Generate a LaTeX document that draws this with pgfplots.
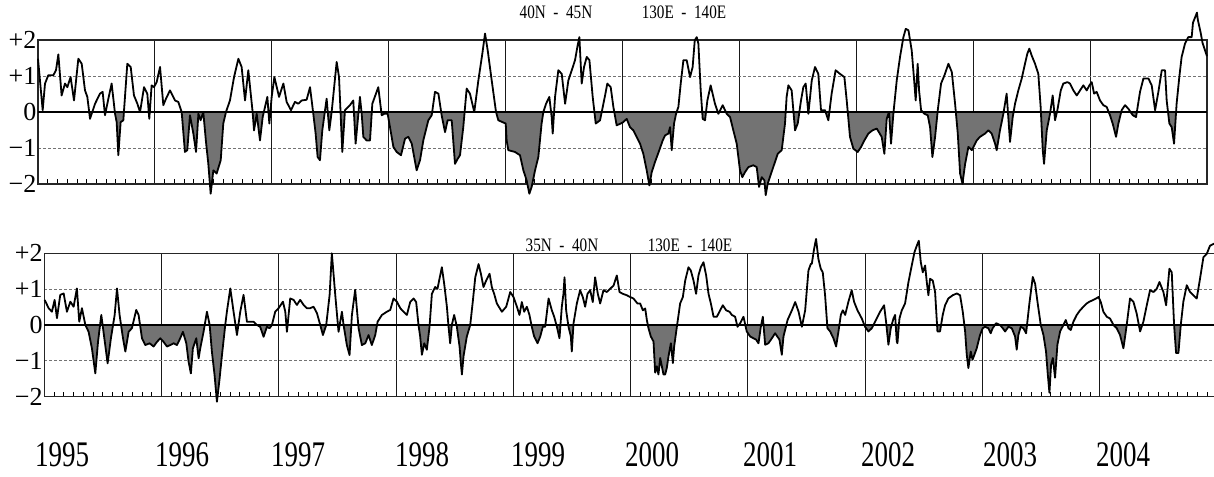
\documentclass[border=0pt]{standalone}
\usepackage{pgfplots}
\pgfplotsset{compat=1.18}
\usepackage{pgfplotstable}
\usepackage{fontspec}
\setmainfont{Liberation Serif}
\usepackage{graphicx}

% top panel: 40N-45N, 130E-140E ; t = years since Jan 1995
\pgfplotstableread{
t v
0.000 1.48
0.040 0.05
0.060 0.79
0.088 1.02
0.131 1.02
0.154 1.16
0.174 1.60
0.202 0.46
0.231 0.79
0.251 0.69
0.279 0.97
0.308 0.32
0.345 1.48
0.374 1.34
0.402 0.60
0.422 0.42
0.445 -0.19
0.488 0.23
0.530 0.51
0.553 0.56
0.573 -0.09
0.602 0.37
0.630 0.79
0.659 -0.05
0.673 -0.28
0.687 -1.20
0.707 -0.28
0.730 -0.23
0.764 1.34
0.793 1.25
0.821 0.46
0.850 0.23
0.873 0.00
0.907 0.69
0.935 0.51
0.952 -0.19
0.972 0.74
0.992 0.69
1.015 0.83
1.044 1.25
1.072 0.19
1.095 0.37
1.129 0.60
1.172 0.32
1.200 0.28
1.229 0.00
1.257 -1.11
1.277 -1.06
1.300 -0.09
1.329 -0.60
1.352 -1.11
1.372 -0.05
1.391 -0.23
1.414 0.00
1.437 -0.83
1.457 -1.44
1.477 -2.27
1.500 -1.62
1.528 -1.71
1.563 -1.34
1.585 -0.32
1.608 0.00
1.642 0.32
1.677 0.97
1.714 1.48
1.742 1.25
1.771 0.32
1.799 1.16
1.836 0.00
1.848 -0.51
1.871 -0.05
1.899 -0.79
1.922 -0.14
1.962 0.42
1.979 -0.32
1.999 0.42
2.022 0.97
2.062 0.42
2.099 0.79
2.127 0.28
2.164 0.05
2.198 0.28
2.227 0.23
2.255 0.32
2.298 0.34
2.327 0.69
2.355 -0.05
2.375 -0.60
2.392 -1.25
2.412 -1.34
2.432 -0.51
2.469 0.37
2.492 -0.51
2.512 0.00
2.555 1.39
2.575 0.97
2.603 -1.11
2.626 0.05
2.669 0.19
2.697 0.32
2.717 -0.88
2.754 0.42
2.769 -0.05
2.783 -0.69
2.811 -0.79
2.840 -0.79
2.860 0.23
2.911 0.69
2.940 -0.09
2.962 -0.05
2.991 -0.05
3.011 -0.42
3.040 -0.97
3.068 -1.11
3.105 -1.20
3.140 -0.74
3.168 -0.69
3.197 -0.88
3.239 -1.62
3.268 -1.34
3.296 -0.79
3.339 -0.23
3.368 -0.09
3.396 0.56
3.425 0.51
3.453 -0.09
3.482 -0.56
3.504 -0.23
3.539 -0.23
3.567 -1.44
3.590 -1.30
3.610 -1.20
3.638 -0.42
3.667 0.65
3.695 0.51
3.732 0.00
3.767 0.88
3.801 1.62
3.824 2.18
3.847 1.71
3.881 0.88
3.918 0.00
3.938 -0.23
3.972 -0.28
4.001 -0.32
4.009 -0.79
4.023 -1.06
4.080 -1.11
4.123 -1.20
4.152 -1.62
4.180 -1.90
4.203 -2.27
4.223 -2.08
4.252 -1.62
4.280 -1.25
4.308 -0.32
4.323 0.00
4.346 0.23
4.374 0.42
4.394 -0.14
4.403 -0.60
4.423 0.42
4.451 1.16
4.480 1.06
4.509 0.23
4.537 0.88
4.566 1.16
4.594 1.44
4.614 1.81
4.631 2.08
4.651 0.79
4.671 1.25
4.694 1.53
4.717 1.44
4.745 0.42
4.771 -0.32
4.808 -0.23
4.851 0.46
4.870 0.79
4.899 0.69
4.922 0.14
4.950 -0.37
4.985 -0.32
5.007 -0.28
5.036 -0.19
5.064 -0.42
5.093 -0.51
5.121 -0.69
5.150 -0.88
5.178 -1.16
5.207 -1.62
5.230 -2.04
5.250 -1.67
5.278 -1.39
5.315 -1.06
5.344 -0.79
5.364 -0.65
5.392 -0.60
5.407 -0.42
5.421 -1.06
5.441 -0.32
5.458 -0.05
5.478 0.14
5.498 0.79
5.521 1.44
5.549 1.44
5.578 0.97
5.600 1.25
5.618 1.99
5.635 2.08
5.649 1.90
5.669 0.60
5.686 -0.19
5.706 -0.23
5.726 0.32
5.754 0.74
5.791 0.23
5.820 -0.05
5.857 0.19
5.891 -0.05
5.920 -0.14
5.948 -0.51
5.977 -0.88
6.005 -1.62
6.025 -1.81
6.048 -1.67
6.077 -1.53
6.119 -1.48
6.148 -1.53
6.168 -2.08
6.191 -1.81
6.214 -1.90
6.225 -2.31
6.242 -1.99
6.271 -1.71
6.299 -1.44
6.328 -1.16
6.362 -1.06
6.390 -0.32
6.404 0.42
6.419 0.74
6.447 0.60
6.476 -0.51
6.499 -0.32
6.527 0.32
6.547 0.69
6.567 0.79
6.590 -0.05
6.619 0.88
6.647 1.25
6.675 1.06
6.698 0.05
6.732 0.05
6.761 -0.23
6.789 0.51
6.823 1.16
6.860 1.06
6.898 0.97
6.918 0.32
6.946 -0.69
6.975 -1.02
7.012 -1.11
7.041 -0.97
7.069 -0.79
7.103 -0.60
7.138 -0.51
7.175 -0.46
7.217 -0.69
7.240 -1.16
7.260 -0.19
7.280 0.00
7.297 -0.88
7.317 -0.05
7.346 0.88
7.374 1.53
7.403 2.08
7.423 2.31
7.446 2.27
7.474 1.71
7.497 0.79
7.508 0.32
7.525 1.34
7.537 0.60
7.554 0.05
7.582 -0.05
7.611 -0.09
7.631 -0.42
7.651 -1.25
7.674 -0.69
7.697 0.05
7.725 0.79
7.754 1.02
7.788 1.34
7.817 1.11
7.845 0.23
7.868 -0.60
7.888 -1.71
7.908 -1.99
7.931 -1.44
7.959 -0.97
7.988 -1.06
8.016 -0.88
8.030 -0.79
8.058 -0.69
8.101 -0.60
8.130 -0.51
8.158 -0.60
8.187 -0.88
8.201 -1.06
8.229 -0.51
8.258 -0.05
8.286 0.51
8.315 -0.83
8.338 -0.14
8.358 0.23
8.386 0.60
8.415 0.93
8.443 1.34
8.463 1.62
8.480 1.76
8.500 1.57
8.529 1.34
8.557 1.06
8.577 0.14
8.595 -1.06
8.606 -1.44
8.629 -0.51
8.657 -0.05
8.680 0.46
8.700 -0.23
8.720 0.05
8.749 0.60
8.771 0.79
8.806 0.83
8.828 0.79
8.857 0.60
8.886 0.46
8.914 0.60
8.942 0.74
8.971 0.60
8.994 0.74
9.014 0.83
9.034 0.51
9.056 0.56
9.085 0.32
9.113 0.19
9.142 0.14
9.170 -0.09
9.193 -0.32
9.222 -0.69
9.242 -0.32
9.270 0.05
9.299 0.19
9.327 0.09
9.365 -0.09
9.393 -0.14
9.427 0.56
9.456 0.93
9.499 0.93
9.527 0.74
9.556 0.05
9.584 0.56
9.613 1.16
9.641 1.16
9.655 0.32
9.678 -0.32
9.698 -0.42
9.718 -0.88
9.740 0.23
9.763 0.97
9.783 1.53
9.812 1.90
9.840 2.08
9.869 2.08
9.880 2.48
9.914 2.76
9.921 2.57
9.946 2.20
9.961 1.93
10.000 1.55
}\toptable

% bottom panel: 35N-40N, 130E-140E
\pgfplotstableread{
t v
0.003 0.70
0.037 0.47
0.065 0.37
0.088 0.70
0.108 0.19
0.136 0.84
0.165 0.88
0.193 0.37
0.222 0.65
0.250 0.51
0.278 1.02
0.298 0.09
0.321 0.47
0.350 0.00
0.378 -0.19
0.406 -0.65
0.435 -1.35
0.458 -0.47
0.486 0.28
0.512 -0.37
0.540 -1.07
0.568 -0.37
0.600 0.28
0.620 1.02
0.642 0.28
0.671 -0.37
0.691 -0.74
0.719 -0.19
0.747 -0.09
0.784 0.42
0.804 0.28
0.833 -0.37
0.861 -0.56
0.898 -0.51
0.932 -0.60
0.961 -0.47
0.989 -0.37
1.017 -0.47
1.046 -0.60
1.074 -0.56
1.103 -0.51
1.131 -0.56
1.159 -0.37
1.182 -0.19
1.211 -0.51
1.230 -1.02
1.250 -1.35
1.267 -0.65
1.296 -0.37
1.316 -0.93
1.330 -0.65
1.358 -0.19
1.387 0.37
1.410 0.00
1.429 -0.74
1.452 -1.40
1.472 -2.14
1.495 -1.49
1.515 -0.84
1.543 0.00
1.557 0.37
1.586 1.02
1.614 0.37
1.643 -0.28
1.671 0.37
1.699 0.84
1.728 0.09
1.756 0.09
1.785 0.09
1.813 0.00
1.841 -0.05
1.870 -0.33
1.898 -0.05
1.921 -0.09
1.941 0.00
1.969 0.37
1.998 0.47
2.035 0.65
2.055 0.37
2.069 -0.19
2.097 0.74
2.126 0.70
2.154 0.56
2.182 0.70
2.211 0.56
2.239 0.47
2.268 0.47
2.296 0.51
2.325 0.33
2.353 0.00
2.376 -0.28
2.404 0.00
2.433 0.84
2.452 2.00
2.481 0.84
2.509 -0.19
2.538 0.37
2.552 0.00
2.580 -0.56
2.603 -0.84
2.623 0.28
2.651 0.98
2.680 -0.09
2.708 -0.56
2.737 -0.51
2.765 -0.28
2.793 -0.56
2.822 -0.28
2.842 0.09
2.879 0.28
2.921 0.37
2.950 0.42
2.978 0.74
3.007 0.65
3.035 0.47
3.063 0.37
3.092 0.28
3.120 0.64
3.149 0.74
3.171 0.64
3.191 0.00
3.205 -0.32
3.220 -0.83
3.240 -0.51
3.262 -0.69
3.285 -0.05
3.305 0.87
3.333 1.06
3.353 1.01
3.370 1.29
3.390 1.61
3.410 1.15
3.433 0.51
3.447 -0.05
3.461 -0.51
3.475 0.00
3.495 0.28
3.518 -0.05
3.541 -0.60
3.552 -1.06
3.561 -1.38
3.575 -0.87
3.603 -0.32
3.632 0.00
3.655 0.69
3.675 1.33
3.703 1.70
3.723 1.43
3.745 1.06
3.768 1.24
3.797 1.43
3.816 1.06
3.836 0.87
3.859 0.60
3.902 0.37
3.939 0.51
3.973 0.92
4.001 0.78
4.030 0.51
4.052 0.28
4.072 0.64
4.092 0.37
4.115 0.51
4.137 0.28
4.157 -0.05
4.177 -0.32
4.206 -0.51
4.229 -0.32
4.251 -0.05
4.271 -0.05
4.300 0.74
4.328 0.41
4.348 0.23
4.371 -0.05
4.393 -0.37
4.413 0.51
4.427 0.87
4.436 1.33
4.450 0.41
4.470 -0.05
4.490 -0.32
4.498 -0.74
4.513 0.05
4.541 0.60
4.569 0.97
4.592 0.78
4.612 0.51
4.632 0.87
4.655 0.97
4.677 0.64
4.697 1.33
4.720 0.87
4.740 0.60
4.768 0.97
4.797 0.92
4.825 1.01
4.854 1.10
4.882 1.38
4.905 0.92
4.933 0.87
4.967 0.83
4.996 0.78
5.024 0.74
5.058 0.60
5.081 0.60
5.104 0.41
5.124 0.46
5.138 0.14
5.152 -0.09
5.172 -0.32
5.195 -0.46
5.209 -1.33
5.223 -1.15
5.237 -1.38
5.252 -0.92
5.280 -1.38
5.294 -1.38
5.308 -1.20
5.323 -0.87
5.343 -0.51
5.360 -1.06
5.371 -0.60
5.394 -0.05
5.422 0.60
5.445 0.78
5.465 1.24
5.493 1.61
5.513 1.52
5.536 1.24
5.558 0.87
5.578 1.38
5.598 1.61
5.621 1.75
5.644 1.38
5.664 0.87
5.684 0.60
5.707 0.23
5.735 0.23
5.763 0.41
5.786 0.55
5.814 0.41
5.843 0.37
5.863 0.28
5.891 0.23
5.911 -0.05
5.934 0.05
5.962 0.23
5.990 -0.18
6.019 -0.32
6.047 -0.37
6.070 -0.41
6.090 -0.51
6.110 -0.05
6.127 0.23
6.147 -0.55
6.175 -0.51
6.204 -0.37
6.232 -0.23
6.269 -0.41
6.289 -0.83
6.303 -0.32
6.338 0.14
6.375 0.41
6.403 0.64
6.432 0.37
6.460 -0.05
6.488 0.41
6.516 1.52
6.536 1.70
6.545 1.71
6.564 2.12
6.581 2.40
6.601 1.84
6.621 1.57
6.638 1.47
6.658 0.83
6.678 -0.09
6.701 -0.18
6.729 -0.37
6.752 -0.60
6.772 -0.18
6.792 0.28
6.809 0.41
6.829 0.28
6.857 0.65
6.885 0.97
6.905 0.65
6.934 0.41
6.971 0.18
6.999 -0.05
7.028 -0.18
7.056 -0.09
7.084 0.09
7.127 0.37
7.161 0.55
7.178 0.09
7.198 -0.55
7.218 -0.09
7.241 0.18
7.255 0.28
7.269 -0.46
7.275 -0.51
7.292 0.18
7.312 0.41
7.340 0.60
7.369 1.20
7.397 1.66
7.420 2.03
7.440 2.21
7.457 2.35
7.474 1.75
7.491 1.47
7.511 1.66
7.525 1.20
7.539 0.83
7.553 1.29
7.576 1.24
7.596 0.92
7.616 -0.18
7.638 -0.18
7.661 0.28
7.681 0.55
7.709 0.74
7.746 0.83
7.781 0.88
7.809 0.83
7.832 0.37
7.852 -0.18
7.866 -0.83
7.880 -1.20
7.900 -0.74
7.915 -0.97
7.931 -0.83
7.951 -0.65
7.979 -0.28
8.002 -0.09
8.022 -0.05
8.050 -0.09
8.070 -0.23
8.087 -0.09
8.116 0.05
8.150 0.00
8.173 -0.09
8.193 -0.18
8.221 -0.05
8.250 -0.09
8.278 -0.32
8.292 -0.69
8.306 -0.28
8.326 -0.05
8.349 -0.09
8.372 -0.23
8.400 0.60
8.429 1.34
8.449 1.15
8.469 0.65
8.497 0.00
8.520 -0.28
8.542 -0.74
8.557 -1.38
8.571 -1.89
8.585 -1.11
8.600 -0.92
8.619 -1.47
8.639 -0.55
8.662 -0.18
8.690 0.00
8.710 0.14
8.733 -0.09
8.753 -0.14
8.775 0.09
8.804 0.28
8.832 0.41
8.861 0.51
8.889 0.60
8.912 0.65
8.940 0.69
8.969 0.74
8.989 0.78
9.008 0.65
9.031 0.37
9.060 0.23
9.088 0.18
9.117 0.00
9.145 -0.09
9.173 -0.28
9.202 -0.65
9.230 0.00
9.258 0.74
9.287 0.65
9.315 0.32
9.344 -0.18
9.372 0.09
9.401 0.55
9.429 0.97
9.458 0.92
9.486 1.01
9.509 1.20
9.543 0.92
9.566 0.55
9.594 1.57
9.614 1.47
9.634 0.00
9.651 -0.78
9.671 -0.78
9.691 0.00
9.713 0.65
9.742 1.11
9.770 0.92
9.798 0.83
9.827 0.74
9.855 1.29
9.884 1.89
9.912 1.98
9.940 2.21
9.969 2.26
10.000 2.30
}\bottable

\pgfplotsset{
  panel/.style={
    scale only axis, clip=false,
    xmin=0, xmax=10, ymin=-2, ymax=2,
    xtick={0,1,...,10}, xticklabels={},
    minor x tick num=11,
    ytick={-2,-1,0,1,2},
    yticklabels={−2,−1,0,+1,+2},
    yticklabel style={font=\fontsize{26}{26}\selectfont, inner sep=1.5pt},
    major tick length=0pt, minor tick length=5pt, tick align=inside,
    xtick pos=lower, ytick pos=left,
    minor tick style={black, line width=0.9pt},
    xmajorgrids, ymajorgrids,
    x grid style={black!90, line width=0.9pt},
    y grid style={black!55, line width=0.9pt, dash pattern=on 3pt off 2pt},
    axis line style={black!85, line width=1.1pt},
  },
}

\begin{document}
\begin{tikzpicture}[x=1pt,y=1pt]
\useasboundingbox (0pt,0pt) rectangle (1214pt,476pt);

% ---------------- top panel ----------------
\begin{axis}[panel, at={(38pt,292pt)}, anchor=south west, width=1169pt, height=144pt]
  \begin{scope}
    \clip (axis cs:0,0) rectangle (axis cs:10,-3);
    \addplot[fill=black!55, draw=none] table[x=t,y=v]{\toptable} \closedcycle;
  \end{scope}
  \draw[black, line width=1.2pt] (axis cs:0,0) -- (axis cs:10,0);
  \addplot[black, line width=1.8pt, line join=round] table[x=t,y=v]{\toptable};
\end{axis}

% ---------------- bottom panel ----------------
\begin{axis}[panel, at={(44.3pt,79.3pt)}, anchor=south west, width=1172.7pt, height=143.4pt]
  \begin{scope}
    \clip (axis cs:0,0) rectangle (axis cs:10,-3);
    \addplot[fill=black!55, draw=none] table[x=t,y=v]{\bottable} \closedcycle;
  \end{scope}
  \draw[black, line width=1.2pt] (axis cs:0,0) -- (axis cs:10,0);
  \addplot[black, line width=1.8pt, line join=round] table[x=t,y=v]{\bottable};
\end{axis}

% panel titles
\node[font=\fontsize{19}{19}\selectfont] at (556pt,464pt) {\scalebox{0.8}[1]{40N\ \ -\ \ 45N}};
\node[font=\fontsize{19}{19}\selectfont] at (684pt,464pt) {\scalebox{0.8}[1]{130E\ \ -\ \ 140E}};
\node[font=\fontsize{19}{19}\selectfont] at (562pt,231pt) {\scalebox{0.8}[1]{35N\ \ -\ \ 40N}};
\node[font=\fontsize{19}{19}\selectfont] at (690pt,231pt) {\scalebox{0.8}[1]{130E\ \ -\ \ 140E}};

% year labels
\foreach \xx/\yy in {62/1995,182/1996,298/1997,422/1998,538/1999,652/2000,770/2001,888/2002,1010/2003,1123/2004}
  \node[font=\fontsize{36}{36}\selectfont, anchor=center] at (\xx pt,21pt) {\scalebox{0.75}[1]{\yy}};
\end{tikzpicture}
\end{document}
